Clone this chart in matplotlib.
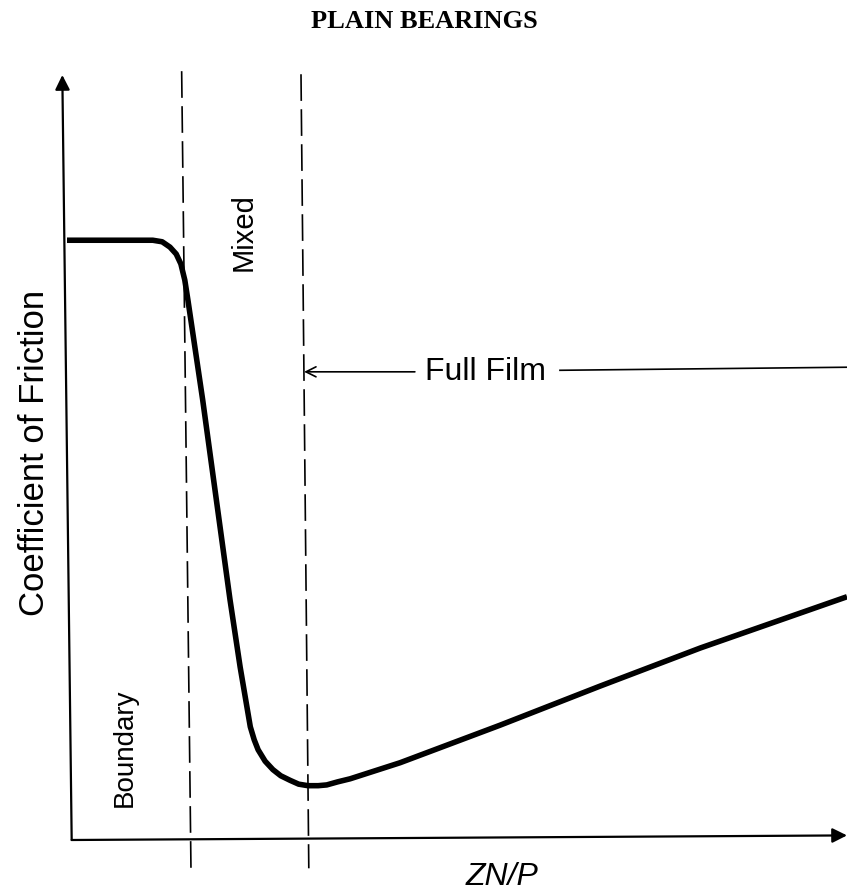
import matplotlib
matplotlib.use("Agg")
import matplotlib.pyplot as plt

# ---- data (axes units 0..100) ----
curve_x = [0.0, 9.4, 11.0, 12.2, 13.2, 14.0, 14.6, 15.1, 15.5, 17.4, 20.9, 22.2,
           23.5, 24.0, 24.5, 25.4, 26.4, 27.4, 28.6, 29.7, 30.9, 32.2, 33.3,
           34.7, 36.3, 42.7, 55.5, 68.3, 81.2, 100.0]
curve_y = [78.4, 78.4, 78.4, 78.2, 77.5, 76.6, 75.3, 73.2, 70.6, 57.5, 31.4, 22.6,
           14.8, 13.1, 11.8, 10.3, 9.2, 8.4, 7.8, 7.3, 7.1, 7.1, 7.2,
           7.6, 8.0, 10.1, 15.0, 20.1, 25.1, 31.8]

boundary_x = [14.7, 15.9]      # top, bottom of the first dashed divider
boundary_y = [100.5, -4.3]
film_x = [30.0, 31.0]          # top, bottom of the second dashed divider
film_y = [100.1, -3.7]

title = "PLAIN BEARINGS"
y_label = "Coefficient of Friction"
x_label = "ZN/P"
regions = ["Boundary", "Mixed", "Full Film"]

sans = ["Liberation Sans", "DejaVu Sans"]

fig = plt.figure(figsize=(8.47, 8.96), dpi=100)
ax = fig.add_axes([67 / 847, 56 / 896, 780 / 847, 765 / 896])
ax.set_xlim(0, 100)
ax.set_ylim(0, 100)
ax.axis("off")

# axes with arrows
ax.annotate("", xy=(-0.6, 100), xytext=(0.6, 0),
            arrowprops=dict(arrowstyle="-|>", lw=1.6, color="black",
                            mutation_scale=22, shrinkA=0, shrinkB=0),
            annotation_clip=False)
ax.annotate("", xy=(100, 0.6), xytext=(0.6, 0),
            arrowprops=dict(arrowstyle="-|>", lw=1.6, color="black",
                            mutation_scale=22, shrinkA=0, shrinkB=0),
            annotation_clip=False)

# dashed dividers
for xs, ys in [(boundary_x, boundary_y), (film_x, film_y)]:
    ax.plot(xs, ys, color="black", lw=1.2, dashes=(16, 5), clip_on=False)

# curve
ax.plot(curve_x, curve_y, color="black", lw=4.0, solid_joinstyle="round",
        solid_capstyle="butt", clip_on=False)

# Full film arrow
ax.annotate("", xy=(30.4, 61.2), xytext=(44.6, 61.2),
            arrowprops=dict(arrowstyle="->", lw=1.2, color="black",
                            mutation_scale=18, shrinkA=0, shrinkB=0))
ax.plot([63.2, 100], [61.4, 61.8], color="black", lw=1.2, clip_on=False)

txt = dict(family=sans, color="black", ha="center", va="center")
ax.text(53.7, 61.2, regions[2], fontsize=23, **txt)
ax.text(22.6, 79.5, regions[1], fontsize=21, rotation=90, **txt)
ax.text(7.4, 12.0, regions[0], fontsize=20, rotation=90, **txt)
ax.text(-4.2, 50.6, y_label, fontsize=25, rotation=90, clip_on=False, **txt)
ax.text(55.8, -4.9, x_label, fontsize=23, style="italic", clip_on=False, **txt)

fig.text(424 / 847, 1 - 21 / 896, title, family="Liberation Serif",
         fontweight="bold", fontsize=19, ha="center", va="center")

fig.savefig("out.png", dpi=100, facecolor="white")
